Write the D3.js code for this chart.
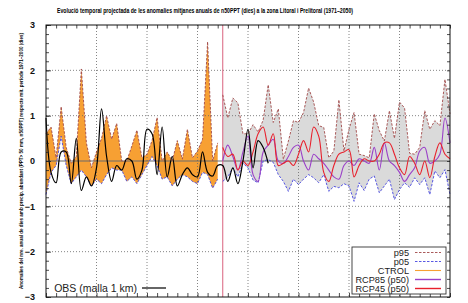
<!DOCTYPE html>
<html>
<head>
<meta charset="utf-8">
<script src="https://cdn.jsdelivr.net/npm/d3@7/dist/d3.min.js"></script>
<style>
  body { margin: 0; background: #fff; }
  svg { display: block; font-family: "Liberation Sans", Arial, sans-serif; }
</style>
</head>
<body>
<div id="chart"></div>
<script>
"use strict";

// control run (orange band), 1970-2004
var ctrlStart = 1970;
var ctrlP95 = [0.6, 0.75, 0.07, 1.2, 0.3, -0.05, 0.1, 2.03, 0.4, -0.15,
               0.2, 0.5, 1.0, 0.48, 0.83, 0.0, 0.0, 0.33, 0.68, 0.07,
               0.15, 0.45, 0.96, 0.0, 0.2, 0.0, 0.45, 0.04, 0.7, 0.07,
               0.22, 0.48, 2.63, 0.0, 0.4];
var ctrlP05 = [-0.74, -0.25, -0.1, 0.55, -0.1, -0.5, -0.35, -0.2, -0.35, -0.55,
               -0.4, -0.5, -0.3, -0.15, -0.2, -0.2, -0.45, -0.35, -0.5, -0.3,
               -0.1, 0.1, -0.1, -0.4, -0.35, -0.55, -0.4, -0.3, -0.35, -0.45,
               -0.5, -0.25, -0.3, -0.6, -0.4];

// scenarios (grey band + medians), 2005-2050
var scenStart = 2005;
var scenP95 = [1.46, 0.95, 1.39, 1.28, 0.6, 0.6, 0.8, 0.64, 0.9, 1.68,
               0.85, 1.15, 0.04, 0.44, 0.89, 0.85, 1.07, 1.61, 1.3, 0.78,
               0.74, 0.07, 0.22, 1.35, 0.22, 0.7, 1.07, 0.15, 0.12, 0.07,
               1.04, 0.67, 0.44, 1.11, 0.5, 1.3, 1.17, 0.17, 0.15, 0.3,
               1.11, 0.7, 0.89, 0.78, 1.8, 1.04];
var scenP05 = [-0.45, -0.35, -0.15, -0.35, -0.05, -0.15, -0.42, -0.48, 0.0, 0.03,
               -0.03, -0.3, -0.45, -0.67, -0.4, -0.52, -0.4, -0.3, -0.37, -0.48,
               -0.3, -0.67, -0.56, -0.59, -0.5, -0.55, -0.89, -0.48, -0.65, -0.4,
               -0.33, -0.7, -0.55, -0.4, -0.85, -0.63, -0.48, -0.58, -0.37, -0.52,
               -0.37, -0.74, -0.22, -0.37, -0.19, -0.74];
var rcp85 = [0.0, 0.35, 0.1, -0.2, 0.2, 0.55, -0.3, -0.45, 0.2, 0.35,
             0.48, 0.0, -0.05, 0.1, 0.3, 0.35, 0.0, -0.2, 0.15, 0.05,
             -0.05, -0.2, -0.35, -0.4, -0.1, 0.0, -0.1, 0.05, 0.0, -0.05,
             0.3, -0.2, 0.4, 0.0, -0.1, -0.25, -0.45, -0.3, -0.15, 0.22,
             0.3, -0.05, 0.0, 0.15, 0.95, 0.4];
var rcp45 = [0.3, 0.1, 0.15, -0.2, 0.0, -0.1, 0.2, 0.6, 0.75, 0.35,
             0.6, -0.1, -0.05, 0.0, -0.1, 0.15, 0.45, 0.2, 0.75, 0.55,
             -0.25, -0.45, -0.1, 0.15, 0.2, 0.25, -0.35, -0.1, 0.05, 0.0,
             0.0, 0.15, 0.4, 0.4, 0.15, -0.15, -0.3, 0.1, -0.05, -0.3,
             0.0, -0.37, 0.1, 0.4, 0.15, 0.05];

// observations, 1970-2014
var obsStart = 1970;
var obs = [0.95, -0.25, -0.48, 0.2, 0.2, -0.5, 0.5, -0.65, -0.35, -0.55,
           -0.15, 1.15, 0.1, -0.45, -0.1, -0.2, 0.05, 0.0, -0.4, -0.2,
           0.7, 0.6, -0.3, 0.75, -0.35, 0.1, -0.55, -0.3, -0.15, -0.3,
           -0.35, 0.2, -0.25, -0.33, -0.1, -0.1, -0.45, -0.15, -0.5, 0.0,
           0.7, -0.15, 0.45, 0.3, -0.05];

var yTicks = [-3, -2, -1, 0, 1, 2, 3];
var xGridYears = [1980, 1990, 2000, 2010, 2020, 2030, 2040];
var splitYear = 2005;
var legendLabels = ["p95", "p05", "CTROL", "RCP85 (p50)", "RCP45 (p50)"];
var obsLabel = "OBS (malla 1 km)";
var title = "Evolució temporal projectada de les anomalies mitjanes anuals de n50PPT (dies) a la zona Litoral i Prelitoral (1971\u20132050)";
var yLabel = "Anomalies del nre. anual de dies amb precip. abundant (PPT> 50 mm, n50PPT) respecte mit. període 1971\u20132000 (dies)";

var colors = {
  orange: "#f7a033", grey: "#dadada", p95: "#a04848", p05: "#4646e0",
  rcp85: "#9a3fc8", rcp45: "#e8202c", obs: "#000", split: "#d9627e"
};

function series(start, values) {
  return values.map(function(v, i) { return {year: start + i, value: v}; });
}
function band(start, hi, lo) {
  return hi.map(function(v, i) { return {year: start + i, hi: v, lo: lo[i]}; });
}

chart(document.getElementById("chart"))();

function chart(selection) {
  function my() {
    var W = 468, H = 303;
    var margin = {top: 25, right: 18, bottom: 6, left: 46},
        width = W - margin.left - margin.right,
        height = H - margin.top - margin.bottom;

    var x = d3.scaleLinear().domain([1970, 2050]).range([0, width]),
        y = d3.scaleLinear().domain([-3, 3]).range([height, 0]);

    var root = d3.select(selection).append("svg")
      .attr("width", W).attr("height", H);

    root.append("text")
      .attr("x", 205).attr("y", 13)
      .attr("text-anchor", "middle")
      .attr("font-size", 6.4).attr("font-weight", "bold")
      .attr("textLength", 296).attr("lengthAdjust", "spacingAndGlyphs")
      .text(title);

    root.append("text")
      .attr("transform", "translate(23,161) rotate(-90)")
      .attr("text-anchor", "middle")
      .attr("font-size", 4.6).attr("font-weight", "bold")
      .attr("textLength", 256).attr("lengthAdjust", "spacingAndGlyphs")
      .text(yLabel);

    var svg = root.append("g")
      .attr("transform", "translate(" + margin.left + "," + margin.top + ")");

    // bands
    var area = d3.area()
      .x(function(d) { return x(d.year); })
      .y0(function(d) { return y(d.lo); })
      .y1(function(d) { return y(d.hi); });

    var ctrlBand = band(ctrlStart, ctrlP95, ctrlP05),
        scenBand = band(scenStart, scenP95, scenP05);

    svg.append("path").datum(scenBand).attr("d", area).attr("fill", colors.grey);
    svg.append("path").datum(ctrlBand).attr("d", area).attr("fill", colors.orange);

    // grid
    svg.append("g").selectAll("line").data(yTicks.filter(function(t) { return t > -3 && t < 3; }))
      .enter().append("line")
      .attr("x1", 0).attr("x2", width)
      .attr("y1", function(d) { return y(d); }).attr("y2", function(d) { return y(d); })
      .attr("stroke", function(d) { return d === 0 ? "#6a6a6a" : "#666"; })
      .attr("stroke-width", function(d) { return d === 0 ? 1 : 0.8; })
      .attr("stroke-dasharray", function(d) { return d === 0 ? null : "1,2"; });

    svg.append("g").selectAll("line").data(xGridYears)
      .enter().append("line")
      .attr("x1", function(d) { return x(d); }).attr("x2", function(d) { return x(d); })
      .attr("y1", 0).attr("y2", height)
      .attr("stroke", "#666").attr("stroke-width", 0.8)
      .attr("stroke-dasharray", "1,2");

    svg.append("line")
      .attr("x1", x(splitYear)).attr("x2", x(splitYear))
      .attr("y1", 0).attr("y2", height)
      .attr("stroke", colors.split).attr("stroke-width", 1);

    // band edges
    var edgeHi = d3.line().x(function(d) { return x(d.year); }).y(function(d) { return y(d.hi); }),
        edgeLo = d3.line().x(function(d) { return x(d.year); }).y(function(d) { return y(d.lo); });

    [ctrlBand, scenBand].forEach(function(b) {
      svg.append("path").datum(b).attr("d", edgeHi)
        .attr("fill", "none").attr("stroke", colors.p95)
        .attr("stroke-width", 0.9).attr("stroke-dasharray", "2.5,1.5");
      svg.append("path").datum(b).attr("d", edgeLo)
        .attr("fill", "none").attr("stroke", colors.p05)
        .attr("stroke-width", 0.9).attr("stroke-dasharray", "2.5,1.5");
    });

    // medians + obs
    var smooth = d3.line()
      .curve(d3.curveCatmullRom.alpha(0.5))
      .x(function(d) { return x(d.year); })
      .y(function(d) { return y(d.value); });

    svg.append("path").datum(series(scenStart, rcp85)).attr("d", smooth)
      .attr("fill", "none").attr("stroke", colors.rcp85).attr("stroke-width", 1.1);
    svg.append("path").datum(series(scenStart, rcp45)).attr("d", smooth)
      .attr("fill", "none").attr("stroke", colors.rcp45).attr("stroke-width", 1.1);
    svg.append("path").datum(series(obsStart, obs)).attr("d", smooth)
      .attr("fill", "none").attr("stroke", colors.obs).attr("stroke-width", 1.2);

    // axes (ticks inward)
    var minorX = d3.range(1970, 2051, 2),
        minorY = d3.range(-3, 3.01, 0.2);

    svg.append("g").attr("class", "x axis")
      .attr("transform", "translate(0," + height + ")")
      .call(d3.axisBottom(x).tickValues(minorX).tickSize(-4).tickSizeOuter(0).tickFormat(""));
    svg.append("g").attr("class", "x axis")
      .call(d3.axisTop(x).tickValues(minorX).tickSize(-3.5).tickSizeOuter(0).tickFormat(""));
    svg.append("g").attr("class", "y axis")
      .call(d3.axisLeft(y).tickValues(minorY).tickSize(-3).tickSizeOuter(0).tickFormat(""));
    svg.append("g").attr("class", "y axis")
      .attr("transform", "translate(" + width + ",0)")
      .call(d3.axisRight(y).tickValues(minorY).tickSize(-3).tickSizeOuter(0).tickFormat(""));

    var yMajor = svg.append("g").attr("class", "y axis")
      .call(d3.axisLeft(y).tickValues(yTicks).tickSize(-5).tickSizeOuter(0).tickPadding(11)
        .tickFormat(function(d) { return d < 0 ? "\u2212" + (-d) : d; }));
    yMajor.selectAll("text").attr("font-size", 9).attr("font-weight", "bold")
      .attr("font-family", "'Liberation Sans', Arial, sans-serif").attr("fill", "#111");

    svg.selectAll(".axis path").remove();
    svg.selectAll(".axis line").attr("stroke", "#222").attr("stroke-width", 0.8);

    svg.append("rect")
      .attr("width", width).attr("height", height)
      .attr("fill", "none").attr("stroke", "#111").attr("stroke-width", 1);

    // legend box
    var lg = svg.append("g").attr("transform", "translate(" + (352 - margin.left) + "," + (247 - margin.top) + ")");
    lg.append("rect").attr("width", 94).attr("height", 47)
      .attr("fill", "#fff").attr("stroke", "#333").attr("stroke-width", 0.9);

    var legendStyles = [
      {stroke: colors.p95, dash: "2.5,1.5", w: 0.9},
      {stroke: colors.p05, dash: "2.5,1.5", w: 0.9},
      {stroke: colors.orange, dash: null, w: 1.1},
      {stroke: colors.rcp85, dash: null, w: 1.4},
      {stroke: colors.rcp45, dash: null, w: 1.4}
    ];
    var rows = lg.selectAll("g.row").data(legendLabels).enter().append("g")
      .attr("class", "row")
      .attr("transform", function(d, i) { return "translate(0," + (5.5 + i * 9) + ")"; });
    rows.append("text")
      .attr("x", 57).attr("dy", "0.35em")
      .attr("text-anchor", "end").attr("font-size", 9.2).attr("fill", "#222")
      .text(function(d) { return d; });
    rows.append("line")
      .attr("x1", 63).attr("x2", 89)
      .attr("stroke", function(d, i) { return legendStyles[i].stroke; })
      .attr("stroke-width", function(d, i) { return legendStyles[i].w; })
      .attr("stroke-dasharray", function(d, i) { return legendStyles[i].dash; });

    // OBS legend
    svg.append("text")
      .attr("x", 137 - margin.left).attr("y", 288 - margin.top).attr("dy", "0.35em")
      .attr("text-anchor", "end").attr("font-size", 10.5).attr("fill", "#222")
      .text(obsLabel);
    svg.append("line")
      .attr("x1", 142 - margin.left).attr("x2", 166 - margin.left)
      .attr("y1", 288 - margin.top).attr("y2", 288 - margin.top)
      .attr("stroke", colors.obs).attr("stroke-width", 1.2);
  }
  return my;
}
</script>
</body>
</html>
